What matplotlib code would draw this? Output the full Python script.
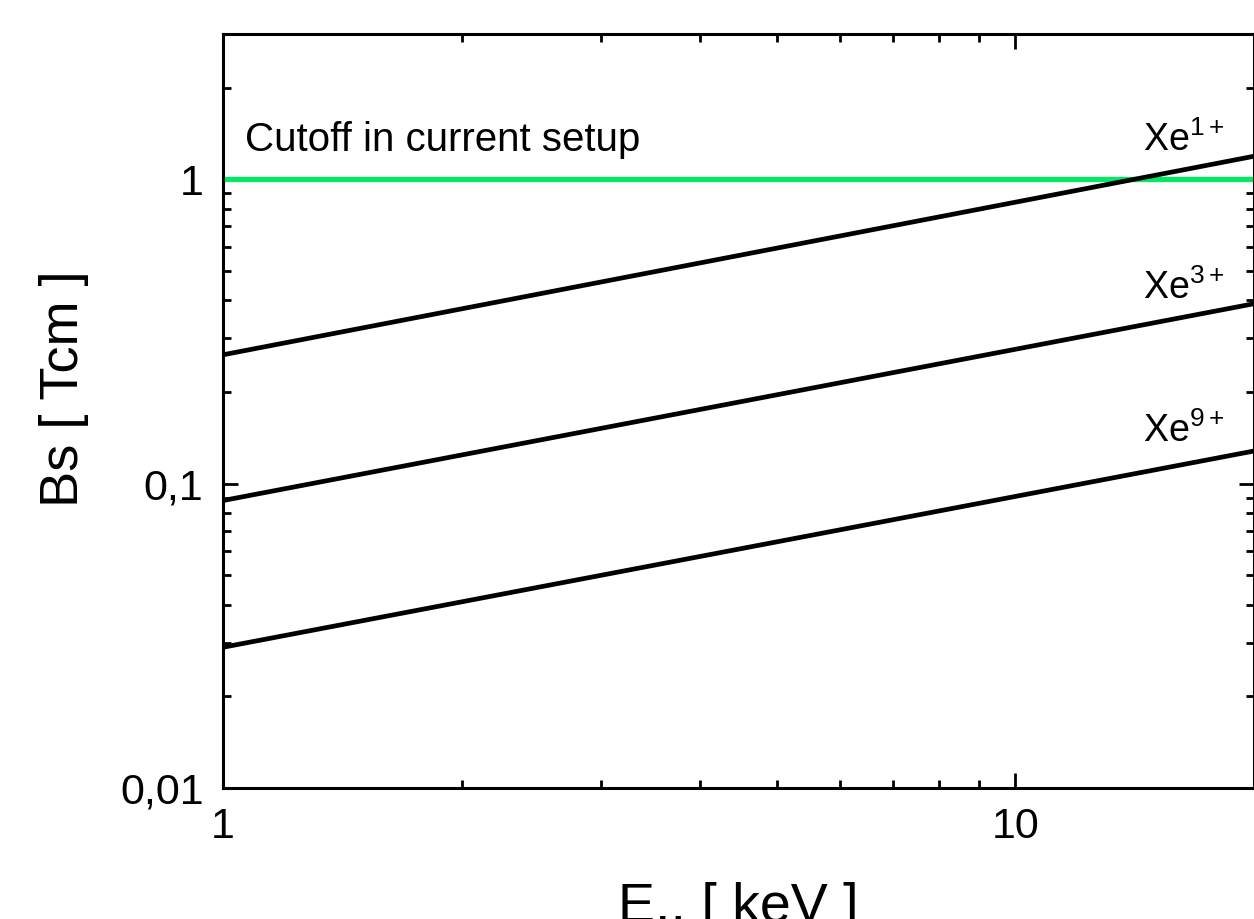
#!/usr/bin/env python3
# -*- coding: utf-8 -*-

import numpy as np
import matplotlib
matplotlib.use("Agg")
import matplotlib.pyplot as plt
from matplotlib.ticker import LogLocator, FixedLocator, FixedFormatter, NullFormatter

# data (values at the two ends of each straight line)
energy_kev = [1, 20]
bs_xe1 = [0.265, 1.19]
bs_xe3 = [0.088, 0.39]
bs_xe9 = [0.029, 0.128]
cutoff_bs = 1.0

series = [("Xe$^{1+}$", bs_xe1), ("Xe$^{3+}$", bs_xe3), ("Xe$^{9+}$", bs_xe9)]
ytick_vals = [0.01, 0.1, 1]
ytick_labels = ["0,01", "0,1", "1"]
xtick_vals = [1, 10]
xtick_labels = ["1", "10"]


def main() -> None:
    plt.rcParams["font.family"] = ["Liberation Sans", "DejaVu Sans"]
    plt.rcParams["mathtext.default"] = "regular"

    fig = plt.figure(figsize=(12.54, 9.19), dpi=100)
    ax = fig.add_axes([0.1778, 0.1425, 0.8222, 0.8205])

    ax.axhline(cutoff_bs, color="#00ea66", lw=3.8, zorder=2)
    for _, vals in series:
        ax.plot(energy_kev, vals, color="black", lw=3.4, solid_capstyle="butt", zorder=3)

    ax.set_xscale("log")
    ax.set_yscale("log")
    ax.set_xlim(1, 20)
    ax.set_ylim(0.01, 3)

    ax.xaxis.set_major_locator(FixedLocator(xtick_vals))
    ax.xaxis.set_major_formatter(FixedFormatter(xtick_labels))
    ax.xaxis.set_minor_locator(LogLocator(base=10, subs=np.arange(2, 10)))
    ax.xaxis.set_minor_formatter(NullFormatter())
    ax.yaxis.set_major_locator(FixedLocator(ytick_vals))
    ax.yaxis.set_major_formatter(FixedFormatter(ytick_labels))
    ax.yaxis.set_minor_locator(LogLocator(base=10, subs=np.arange(2, 10)))
    ax.yaxis.set_minor_formatter(NullFormatter())

    ax.tick_params(which="both", direction="in", top=True, right=True, width=2.0, color="black")
    ax.tick_params(which="major", length=11, labelsize=31)
    ax.tick_params(axis="x", which="major", pad=14)
    ax.tick_params(axis="y", which="major", pad=14)
    ax.tick_params(which="minor", length=5.5)
    for sp in ax.spines.values():
        sp.set_linewidth(2.2)

    ax.set_ylabel("Bs [ Tcm ]", fontsize=39)
    ax.yaxis.set_label_coords(-0.13, 0.53)
    ax.set_xlabel("E.. [ keV ]", fontsize=40)
    ax.xaxis.set_label_coords(0.5, -0.125)

    ax.text(0.021, 0.845, "Cutoff in current setup", transform=ax.transAxes,
            fontsize=29, ha="left", va="baseline")
    label_y = [0.845, 0.649, 0.459]
    for (name, _), ly in zip(series, label_y):
        ax.text(0.972, ly, name, transform=ax.transAxes, fontsize=27, ha="right", va="baseline")

    fig.savefig("out.png", dpi=100)
    plt.close(fig)


if __name__ == "__main__":
    main()
